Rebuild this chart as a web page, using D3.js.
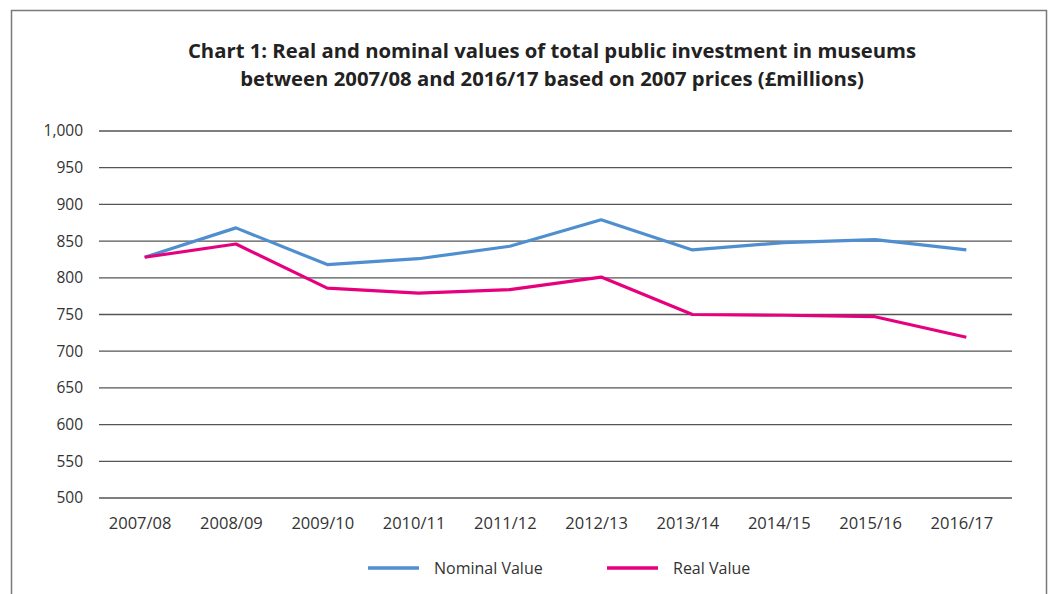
<!DOCTYPE html>
<html>
<head>
<meta charset="utf-8">
<title>Museum investment</title>
<script src="https://d3js.org/d3.v7.min.js"></script>
<style>
  body { margin: 0; background: #fff; }
  text { font-family: "Open Sans", "Noto Sans", sans-serif; }
</style>
</head>
<body>
<div id="chart"></div>
<script>
// data
const years = ["2007/08", "2008/09", "2009/10", "2010/11", "2011/12",
               "2012/13", "2013/14", "2014/15", "2015/16", "2016/17"];
const nominal = [828, 868, 818, 826, 843, 879, 838, 848, 852, 838];
const real = [828, 846, 786, 779, 784, 801, 750, 749, 747, 719];
const yTicks = [500, 550, 600, 650, 700, 750, 800, 850, 900, 950, 1000];
const titleLines = ["Chart 1: Real and nominal values of total public investment in museums",
                    "between 2007/08 and 2016/17 based on 2007 prices (£millions)"];

const W = 1049, H = 594;
const margin = {top: 131, right: 37, bottom: 96, left: 99};
const w = W - margin.left - margin.right;
const h = H - margin.top - margin.bottom;

const svg = d3.select("#chart").append("svg")
    .attr("width", W)
    .attr("height", H);

// frame
svg.append("path")
    .attr("d", "M11.5,600 V10.5 H1046.5 V600")
    .attr("fill", "none")
    .attr("stroke", "#7a7a7a")
    .attr("stroke-width", 1.5);

svg.append("text")
    .attr("x", 545)
    .attr("text-anchor", "middle")
    .attr("font-size", "20.3px")
    .attr("font-weight", "bold")
    .attr("fill", "#222")
    .selectAll("tspan")
    .data(titleLines)
    .join("tspan")
    .attr("x", 552)
    .attr("y", (d, i) => 58 + i * 28)
    .text(d => d);

const g = svg.append("g")
    .attr("transform", "translate(" + margin.left + "," + margin.top + ")");

const x = d3.scalePoint().domain(years).range([0, w]).padding(0.5);
const y = d3.scaleLinear().domain([500, 1000]).range([h, 0]);

// gridlines
g.append("g")
    .selectAll("line")
    .data(yTicks)
    .join("line")
    .attr("x1", 0)
    .attr("x2", w)
    .attr("y1", d => y(d))
    .attr("y2", d => y(d))
    .attr("stroke", "#555")
    .attr("stroke-width", 1.3);

const yAxis = g.append("g")
    .call(d3.axisLeft(y).tickValues(yTicks).tickSize(0).tickPadding(16).tickFormat(d3.format(",")));
yAxis.select(".domain").remove();
yAxis.selectAll("text")
    .attr("font-size", "15.5px")
    .attr("fill", "#333")
    .style("font-family", "\"Open Sans\", \"Noto Sans\", sans-serif");

const xAxis = g.append("g")
    .attr("transform", "translate(0," + h + ")")
    .call(d3.axisBottom(x).tickSize(0).tickPadding(19));
xAxis.select(".domain").remove();
xAxis.selectAll("text")
    .attr("font-size", "16.5px")
    .attr("fill", "#333")
    .attr("dx", "-5")
    .style("font-family", "\"Open Sans\", \"Noto Sans\", sans-serif");

const series = [
    {name: "Nominal Value", values: nominal, color: "#4f8fcf"},
    {name: "Real Value", values: real, color: "#e6007e"}
];

const line = d3.line()
    .x((d, i) => x(years[i]))
    .y(d => y(d));

g.selectAll(".series")
    .data(series)
    .join("path")
    .attr("class", "series")
    .attr("d", d => line(d.values))
    .attr("fill", "none")
    .attr("stroke", d => d.color)
    .attr("stroke-width", 3.2)
    .attr("stroke-linejoin", "round");

// legend
const legend = svg.append("g")
    .selectAll("g")
    .data(series)
    .join("g")
    .attr("transform", (d, i) => "translate(" + (368 + i * 239) + ",568)");
legend.append("line")
    .attr("x1", 0).attr("x2", 51)
    .attr("stroke", d => d.color)
    .attr("stroke-width", 3.5);
legend.append("text")
    .attr("x", 66)
    .attr("dy", "0.35em")
    .attr("font-size", "16px")
    .attr("fill", "#333")
    .text(d => d.name);
</script>
</body>
</html>
